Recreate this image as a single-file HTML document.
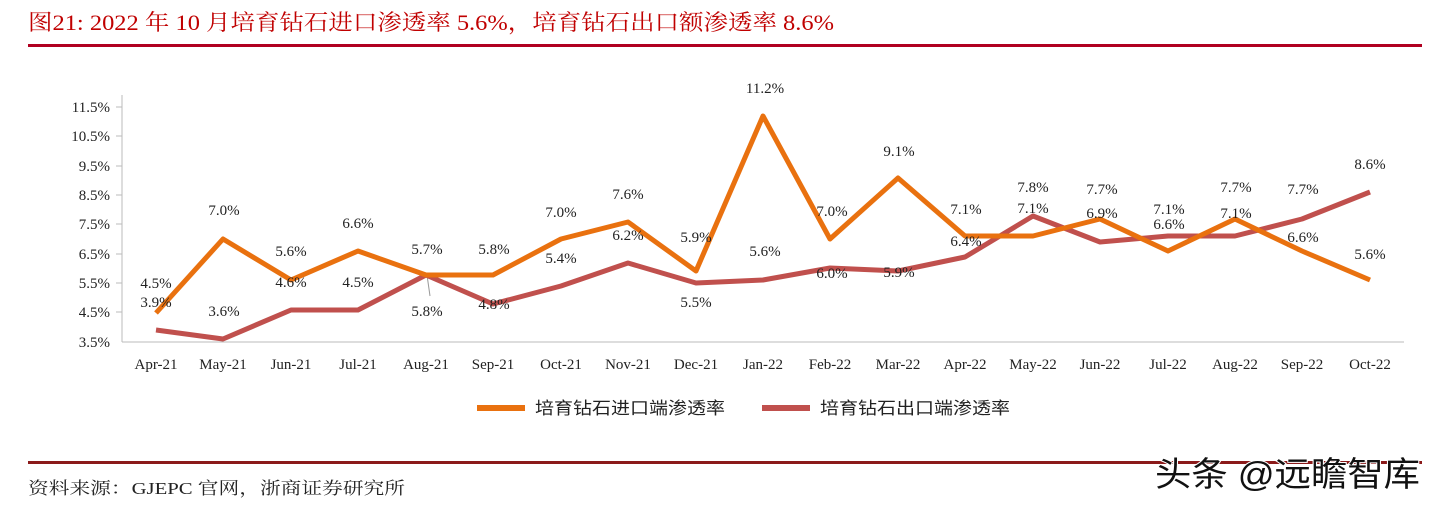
<!DOCTYPE html><html><head><meta charset="utf-8"><style>
body{margin:0;width:1436px;height:508px;background:#fff;overflow:hidden;font-family:"Liberation Serif","Noto Serif CJK SC",serif}
</style></head><body>
<svg width="1436" height="508" xmlns="http://www.w3.org/2000/svg" font-family="Liberation Serif, Noto Serif CJK SC, serif">
<text x="28" y="30" font-size="22" fill="#C00000" textLength="806" lengthAdjust="spacingAndGlyphs">图21:  2022 年 10 月培育钻石进口渗透率 5.6%，培育钻石出口额渗透率 8.6%</text>
<rect x="28" y="44" width="1394" height="3" fill="#B00020"/>
<g font-size="15" fill="#222" text-anchor="end">
<text x="110" y="112">11.5%</text><text x="110" y="141">10.5%</text><text x="110" y="171">9.5%</text><text x="110" y="200">8.5%</text><text x="110" y="229">7.5%</text><text x="110" y="259">6.5%</text><text x="110" y="288">5.5%</text><text x="110" y="317">4.5%</text><text x="110" y="347">3.5%</text>
</g>
<g stroke="#bbb" stroke-width="1">
<line x1="122" y1="95" x2="122" y2="342"/><line x1="122" y1="342" x2="1404" y2="342"/>
<line x1="116" y1="107" x2="122" y2="107"/><line x1="116" y1="136" x2="122" y2="136"/><line x1="116" y1="166" x2="122" y2="166"/><line x1="116" y1="195" x2="122" y2="195"/><line x1="116" y1="224" x2="122" y2="224"/><line x1="116" y1="254" x2="122" y2="254"/><line x1="116" y1="283" x2="122" y2="283"/><line x1="116" y1="312" x2="122" y2="312"/>
<line x1="427" y1="275" x2="430" y2="296" stroke="#999"/>
</g>
<g font-size="15" fill="#222" text-anchor="middle">
<text x="156" y="369">Apr-21</text><text x="223" y="369">May-21</text><text x="291" y="369">Jun-21</text><text x="358" y="369">Jul-21</text><text x="426" y="369">Aug-21</text><text x="493" y="369">Sep-21</text><text x="561" y="369">Oct-21</text><text x="628" y="369">Nov-21</text><text x="696" y="369">Dec-21</text><text x="763" y="369">Jan-22</text><text x="830" y="369">Feb-22</text><text x="898" y="369">Mar-22</text><text x="965" y="369">Apr-22</text><text x="1033" y="369">May-22</text><text x="1100" y="369">Jun-22</text><text x="1168" y="369">Jul-22</text><text x="1235" y="369">Aug-22</text><text x="1302" y="369">Sep-22</text><text x="1370" y="369">Oct-22</text>
</g>
<polyline fill="none" stroke="#C0504D" stroke-width="5" stroke-linejoin="round" points="156,330 223,339 291,310 358,310 426,275 493,304 561,286 628,263 696,283 763,280 830,268 898,271 965,257 1033,216 1100,242 1168,236 1235,236 1302,219 1370,192"/>
<polyline fill="none" stroke="#E9710F" stroke-width="5" stroke-linejoin="round" points="156,313 223,239 291,280 358,251 426,275 493,275 561,239 628,222 696,271 763,116 830,239 898,178 965,236 1033,236 1100,219 1168,251 1235,219 1302,251 1370,280"/>
<g font-size="15" fill="#222" text-anchor="middle">
<text x="156" y="288">4.5%</text><text x="224" y="215">7.0%</text><text x="291" y="256">5.6%</text><text x="358" y="228">6.6%</text><text x="427" y="254">5.7%</text><text x="494" y="254">5.8%</text><text x="561" y="217">7.0%</text><text x="628" y="199">7.6%</text><text x="696" y="242">5.9%</text><text x="765" y="93">11.2%</text><text x="832" y="216">7.0%</text><text x="899" y="156">9.1%</text><text x="966" y="214">7.1%</text><text x="1033" y="213">7.1%</text><text x="1102" y="194">7.7%</text><text x="1169" y="214">7.1%</text><text x="1169" y="229">6.6%</text><text x="1236" y="192">7.7%</text><text x="1236" y="218">7.1%</text><text x="1303" y="194">7.7%</text><text x="1303" y="242">6.6%</text><text x="1370" y="169">8.6%</text><text x="1370" y="259">5.6%</text>
<text x="156" y="307">3.9%</text><text x="224" y="316">3.6%</text><text x="291" y="287">4.6%</text><text x="358" y="287">4.5%</text><text x="427" y="316">5.8%</text><text x="494" y="309">4.8%</text><text x="561" y="263">5.4%</text><text x="628" y="240">6.2%</text><text x="696" y="307">5.5%</text><text x="765" y="256">5.6%</text><text x="832" y="278">6.0%</text><text x="899" y="277">5.9%</text><text x="966" y="246">6.4%</text><text x="1033" y="192">7.8%</text><text x="1102" y="218">6.9%</text>
</g>
<rect x="477" y="405" width="48" height="6" fill="#E9710F"/>
<text x="535" y="414" font-size="17" font-family="Liberation Sans, Noto Sans CJK SC, sans-serif" fill="#222" textLength="190" lengthAdjust="spacingAndGlyphs">培育钻石进口端渗透率</text>
<rect x="762" y="405" width="48" height="6" fill="#C0504D"/>
<text x="820" y="414" font-size="17" font-family="Liberation Sans, Noto Sans CJK SC, sans-serif" fill="#222" textLength="190" lengthAdjust="spacingAndGlyphs">培育钻石出口端渗透率</text>
<rect x="28" y="461" width="1394" height="3" fill="#8B1A1A"/>
<text x="28" y="494" font-size="17" fill="#222" textLength="377" lengthAdjust="spacingAndGlyphs">资料来源：GJEPC 官网，浙商证券研究所</text>
<text x="1155" y="486" font-size="34" font-family="Liberation Sans, Noto Sans CJK SC, sans-serif" fill="#111" stroke="#fff" stroke-width="2" paint-order="stroke" textLength="265" lengthAdjust="spacingAndGlyphs">头条 @远瞻智库</text>
</svg>
</body></html>
